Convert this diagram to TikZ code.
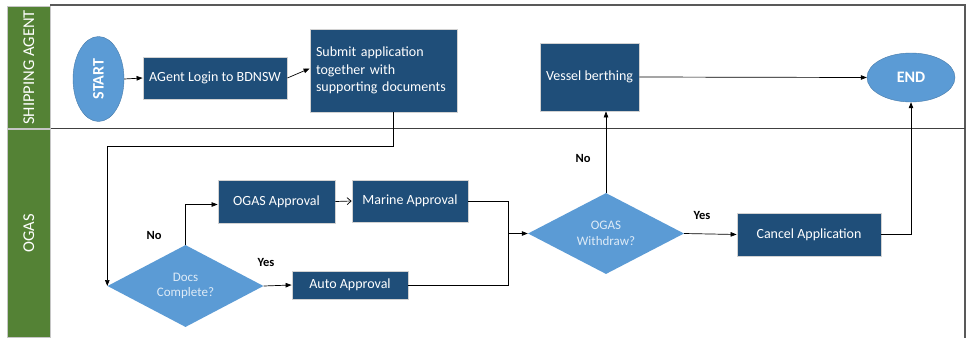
\documentclass[tikz,border=0pt]{standalone}
\usepackage{fontspec}
\setmainfont{Carlito}
\usetikzlibrary{shapes.geometric,arrows.meta}
\definecolor{boxblue}{RGB}{31,78,121}
\definecolor{lightblue}{RGB}{91,155,213}
\definecolor{lanegreen}{RGB}{84,130,53}
\definecolor{dtext}{RGB}{222,235,247}
\tikzset{
  procbox/.style={rectangle, fill=boxblue, draw=gray!35, line width=0.8pt, text=white, font=\fontsize{14}{17.5}\selectfont, inner sep=0pt},
  decision/.style={diamond, fill=lightblue, draw=none, text=dtext, font=\fontsize{13}{15.5}\selectfont, align=center, inner sep=0pt, minimum width=156pt, minimum height=82pt, shape aspect=1.9},
  terminal/.style={ellipse, fill=lightblue, draw=lightblue!80!black, line width=0.4pt, text=white, font=\fontsize{16}{18}\selectfont\bfseries, inner sep=0pt},
  lanelabel/.style={rectangle, fill=lanegreen, draw=gray!45, line width=0.8pt, text=white, minimum width=43pt, inner sep=0pt},
  lanetext/.style={rotate=90, text=white, font=\fontsize{16.5}{18}\selectfont, inner sep=0pt},
  conn/.style={draw=black, line width=0.7pt},
  arr/.style={conn, -{Triangle[length=6pt,width=4.5pt]}},
  openarr/.style={conn, -{Straight Barb[length=4pt,width=7pt]}},
  ynlabel/.style={font=\fontsize{12.5}{14}\selectfont\bfseries, text=black, inner sep=0pt}
}
\begin{document}
\begin{tikzpicture}[x=1pt,y=-1pt]
\useasboundingbox (0,0) rectangle (968,338);
\fill[white] (0,0) rectangle (968,338);
% frame
\draw[gray!70!black, line width=1.2pt] (50,5) -- (965,5) -- (965,338);
\draw[black!75, line width=0.8pt] (50,128) -- (965,128);
% lane labels
\node[lanelabel, minimum height=122pt, anchor=north west] (laneA) at (7,6) {};
\node[lanetext] (laneAtxt) at (laneA.center) {SHIPPING AGENT};
\node[lanelabel, minimum height=208pt, anchor=north west] (laneB) at (7,129) {};
\node[lanetext] (laneBtxt) at (laneB.center) {OGAS};
% nodes
\node[terminal, minimum width=51pt, minimum height=85pt] (start) at (98.5,79) {};
\node[rotate=90, text=white, font=\fontsize{16}{18}\selectfont\bfseries, inner sep=0pt] (starttxt) at (start.center) {START};
\node[procbox, minimum width=144pt, minimum height=42pt] (login) at (215,78) {AGent Login to BDNSW};
\node[procbox, minimum width=147pt, minimum height=83pt, align=left, text width=135pt] (submit) at (383.5,70.5) {Submit application\\together with\\supporting documents};
\node[procbox, minimum width=99pt, minimum height=68pt] (vessel) at (589.5,77) {Vessel berthing};
\node[terminal, minimum width=88pt, minimum height=49pt] (end) at (911,77.5) {END};
\node[decision] (docs) at (185.5,286) {Docs\\Complete?};
\node[procbox, minimum width=117pt, minimum height=43pt] (ogas) at (276.5,201.5) {OGAS Approval};
\node[procbox, minimum width=116pt, minimum height=42pt] (marine) at (410,201) {Marine Approval};
\node[procbox, minimum width=116pt, minimum height=28pt] (auto) at (350,285) {Auto Approval};
\node[decision, minimum height=81pt] (withdraw) at (606,233.5) {OGAS\\Withdraw?};
\node[procbox, minimum width=144pt, minimum height=43pt] (cancel) at (809,234.5) {Cancel Application};
\coordinate (merge) at (508,233.5);
% connectors
\draw[arr] (start.east) -- (login.west);
\draw[arr] (login.east) -- ([yshift=2pt]submit.west);
\draw[arr] ([xshift=9.5pt]submit.south) -- ++(0,34) -| (docs.west);
\draw[arr] (docs.north) |- ([yshift=-3pt]ogas.west);
\draw[openarr] (ogas.east) -- (marine.west);
\draw[arr] (docs.east) -- (auto.west);
\draw[conn] (marine.east) -| (merge);
\draw[conn] (auto.east) -| (merge);
\draw[arr] (merge) -- (withdraw.west);
\draw[arr] (withdraw.north) -- (withdraw.north |- vessel.south);
\draw[arr] (vessel.east) -- (end.west);
\draw[arr] (withdraw.east) -- (cancel.west);
\draw[arr] (cancel.east) -| (end.south);
% labels
\node[ynlabel] (no1) at (154,235) {No};
\node[ynlabel] (yes1) at (266,262) {Yes};
\node[ynlabel] (no2) at (583,158) {No};
\node[ynlabel] (yes2) at (702,215) {Yes};
\end{tikzpicture}
\end{document}
